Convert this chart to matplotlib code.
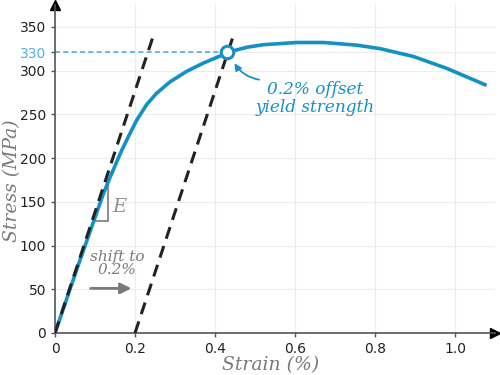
import numpy as np
import matplotlib.pyplot as plt

# stress-strain curve
strain = [0, 0.06, 0.12, 0.135, 0.15, 0.167, 0.183, 0.204, 0.229, 0.254,
          0.2875, 0.329, 0.371, 0.4125, 0.43, 0.446, 0.479, 0.521, 0.604,
          0.671, 0.754, 0.8125, 0.896, 0.979, 1.079]
stress = [0, 80, 158, 175, 191, 209, 224, 243, 261, 274,
          287, 299, 308.5, 316.5, 320, 322.5, 326.5, 329.5, 332,
          332, 329, 325, 316, 302.5, 283]

# elastic line and its 0.2% offset
E = 1382            # MPa per %
line_top = 342      # MPa
offset = 0.2
yield_strain, yield_stress = 0.43, 321
yield_label = '330'

xticks = [0, 0.2, 0.4, 0.6, 0.8, 1.0]
xticklabels = ['0', '0.2', '0.4', '0.6', '0.8', '1.0']
yticks = [0, 50, 100, 150, 200, 250, 300, 350]

blue = '#1391c6'
grey = '#7a7a7a'
label_font = dict(family='DejaVu Serif', style='italic')

fig = plt.figure(figsize=(5, 3.75), dpi=100)
ax = fig.add_axes([0.11, 0.112, 0.88, 0.875])
ax.set_xlim(0, 1.1)
ax.set_ylim(0, 375)

ax.grid(color='#ececec', lw=0.8)
ax.set_axisbelow(True)
for s in ['top', 'right']:
    ax.spines[s].set_visible(False)
for s in ['left', 'bottom']:
    ax.spines[s].set_color('#555555')
    ax.spines[s].set_linewidth(1.2)
ax.plot(1, 0, '>', color='black', ms=7, transform=ax.transAxes, clip_on=False)
ax.plot(0, 1, '^', color='black', ms=7, transform=ax.transAxes, clip_on=False)

ax.set_xticks(xticks)
ax.set_xticklabels(xticklabels)
ax.set_yticks(yticks + [yield_stress])
ax.set_yticklabels([str(v) for v in yticks] + [yield_label])
ax.tick_params(length=3, width=1, color='#555555', labelsize=10, labelcolor='#222222')
ax.get_yticklabels()[-1].set_color('#4fb0e0')

# horizontal dashed to yield point
ax.plot([0, yield_strain], [yield_stress, yield_stress], '--', color='#4fb0e0',
        lw=1.2, dashes=(3, 2))

# curve
ax.plot(strain, stress, color=blue, lw=2.6, solid_capstyle='butt',
        solid_joinstyle='round', zorder=3)

# elastic + offset lines
ax.plot([0, line_top / E], [0, line_top], color='#222222', lw=2.2,
        dashes=(4, 2.5), zorder=4)
ax.plot([offset, offset + line_top / E], [0, line_top], color='#222222', lw=2.2,
        dashes=(4, 2.5), zorder=4)

# yield point marker
ax.plot(yield_strain, yield_stress, 'o', ms=9, mfc='white', mec=blue, mew=2.2, zorder=5)

# slope triangle
ax.plot([0.1, 0.132, 0.132], [128, 128, 175], color='#909090', lw=1.5, zorder=2)
ax.text(0.142, 144, 'E', color='#909090', fontsize=14, va='center', **label_font)

# shift annotation
ax.text(0.155, 79, 'shift to\n0.2%', color=grey, fontsize=11, ha='center',
        va='center', linespacing=0.9, **label_font)
ax.annotate('', xy=(0.198, 51), xytext=(0.082, 51),
            arrowprops=dict(arrowstyle='-|>', color=grey, lw=2, mutation_scale=16))

# yield annotation
ax.annotate('', xy=(yield_strain + 0.015, yield_stress - 10), xytext=(0.517, 289),
            arrowprops=dict(arrowstyle='-|>', color=blue, lw=1.3, mutation_scale=10,
                            connectionstyle='arc3,rad=-0.25'))
ax.text(0.65, 268, '0.2% offset\nyield strength', color=blue, fontsize=12.2,
        ha='center', va='center', linespacing=1.0, **label_font)

ax.set_xlabel('Strain (%)', color=grey, fontsize=13.5, va='center', **label_font)
ax.set_ylabel('Stress (MPa)', color=grey, fontsize=13.5, va='center', **label_font)
ax.xaxis.set_label_coords(0.49, -0.098)
ax.yaxis.set_label_coords(-0.098, 0.465)

fig.savefig('out.png', dpi=100)
